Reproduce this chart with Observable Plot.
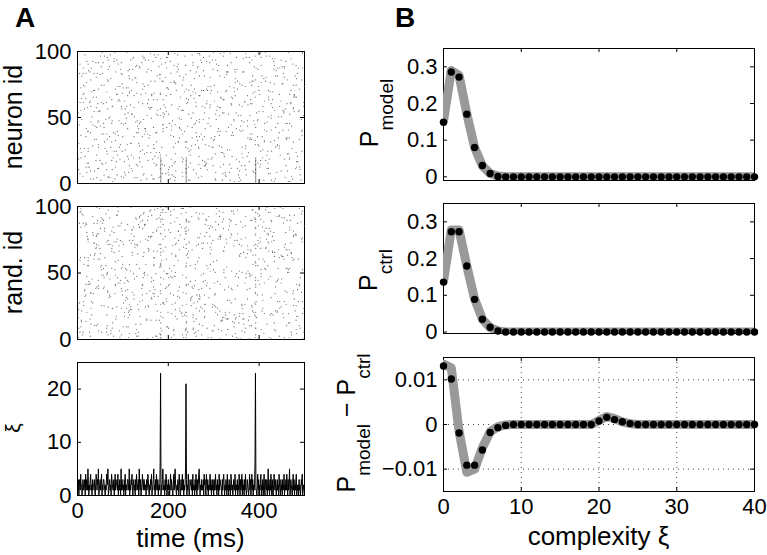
<!DOCTYPE html>
<html><head><meta charset="utf-8">
<script src="https://cdn.jsdelivr.net/npm/d3@7"></script>
<script src="https://cdn.jsdelivr.net/npm/@observablehq/plot@0.6"></script>
<style>
html,body{margin:0;padding:0;background:#fff;}
#fig{position:relative;width:767px;height:555px;overflow:hidden;background:#fff;}
#fig svg{position:absolute;max-width:none;}
</style></head><body><div id="fig"></div>
<script>
// ---------------- Panel A data ----------------
// number of background spikes per 1-ms bin (t = 0..499), 50 bins per row
const xiRows = [
  "21302314220132123041321520213412031223102431325012",
  "31240213321021432501231204321130241223140213205132",
  "12031402213321502132410231203142213052130124213312",
  "20312431021324012351203142130221630213521203143021",
  "31202413210241352102132042103124130212513021420132",
  "21304122031420312452021312130423104213021241302132",
  "03124120312041322103134202132041203120431201321402",
  "21302142031240312031420132102413024130212631102413",
  "02134021302410321302512031420310242131023120421031",
  "20312402131420312501321024130213402120312013240121"
];
// neuron ids (0-99) of the background spikes (read column by column)
const spikeIdRows = [
  "47 83 12 65 29 91 04 58 36 72 18 95 41 07 63 26 88 53 10 77 34 69 02 45 81 16 59 93 23 70 38 06 84 51 14 67 99 31 42 75 09 56 87 20 62 33 97 48 11 79",
  "25 61 90 03 54 37 86 19 73 44 08 66 28 94 57 15 82 39 71 05 49 96 21 68 35 13 80 52 27 89 64 01 46 76 32 98 17 60 85 40 22 74 55 92 30 67 43 09 78 14",
  "53 87 26 70 11 45 93 38 62 04 81 57 19 95 34 68 23 50 06 76 42 89 15 61 97 29 73 48 02 84 36 59 13 91 65 24 77 40 08 55 99 31 71 17 86 46 63 20 94 52",
  "10 74 39 83 27 60 05 92 47 16 69 35 88 22 56 03 79 44 12 98 58 31 85 07 66 41 18 90 53 25 72 09 61 37 96 14 80 49 28 75 01 57 33 87 21 64 43 99 06 82",
  "30 68 15 54 91 42 77 24 63 08 86 50 19 73 36 97 11 59 45 02 81 27 66 38 93 14 70 55 23 89 47 04 62 34 78 17 96 51 29 83 40 65 12 88 57 21 75 09 44 99",
  "18 56 85 33 71 06 49 94 27 62 13 80 45 37 98 20 67 52 03 76 41 89 25 58 11 92 34 69 07 84 48 16 73 60 29 95 39 02 87 54 22 66 10 79 43 31 90 64 15 57",
  "83 26 61 09 47 74 35 99 18 52 68 04 87 41 23 77 56 13 92 30 65 08 49 84 37 71 19 58 96 42 01 75 28 63 10 89 46 24 81 53 34 67 06 94 38 72 15 59 21 86",
  "44 97 12 70 55 31 88 03 62 25 79 46 16 93 57 38 05 80 67 22 48 11 74 35 91 60 27 85 14 52 69 40 98 33 07 76 21 63 45 87 18 54 02 71 36 95 29 66 09 78",
  "61 20 84 43 17 96 50 32 73 06 59 88 24 41 77 13 68 91 36 04 55 82 28 47 70 15 93 39 63 08 86 51 26 74 42 99 11 57 34 80 19 65 48 03 92 31 76 23 58 85",
  "07 73 38 91 54 26 65 12 86 45 30 79 02 68 49 95 21 57 83 16 40 71 34 98 05 62 27 89 53 14 76 43 10 60 87 35 24 94 50 18 67 81 39 08 72 46 29 97 56 13",
  "90 35 62 17 82 48 04 71 29 56 93 14 67 39 85 23 51 07 76 44 19 64 97 32 58 10 86 41 22 73 66 02 95 37 53 81 15 69 26 88 45 11 78 30 61 99 34 05 83 50",
  "26 64 09 80 43 15 97 37 58 72 21 89 46 03 66 31 94 54 18 75 08 60 42 87 33 70 13 51 99 25 84 39 06 77 47 19 65 92 28 56 01 74 36 85 12 49 68 23 91 40",
  "55 12 78 33 96 61 27 84 05 49 70 38 91 23 57 14 82 66 40 09 74 31 53 88 17 45 99 28 63 02 79 47 20 93 35 58 11 86 67 04 52 89 24 41 76 15 97 30 62 37",
  "19 83 46 65 02 37 79 24 91 58 11 68 35 84 06 52 27 95 43 70 16 61 89 04 48 73 32 57 20 98 41 13 66 81 29 54 07 75 38 92 60 23 87 49 14 71 03 56 34 80",
  "72 41 03 57 88 24 63 16 45 99 30 76 12 51 67 38 90 21 59 84 05 43 69 27 95 18 62 36 80 11 53 74 47 09 86 25 70 32 58 13 94 65 40 06 77 22 48 83 17 61",
  "36 92 58 21 74 10 45 67 83 29 52 04 96 37 18 63 77 42 06 88 55 26 91 14 70 49 33 81 08 60 95 22 43 68 15 79 50 01 87 34 61 12 98 46 25 73 57 19 84 39",
  "64 08 87 42 15 69 31 93 56 20 78 47 25 60 03 81 44 72 13 97 37 52 10 66 85 28 74 39 06 91 18 58 34 77 48 02 63 89 21 45 70 16 99 32 54 07 83 27 68 11",
  "23 76 50 04 61 95 17 39 82 66 09 43 71 28 92 55 14 87 47 31 78 02 64 20 53 96 35 12 69 44 86 27 59 08 73 40 18 94 62 33 05 79 51 25 88 42 67 14 97 30",
  "48 15 69 83 37 22 58 06 75 41 94 13 60 86 29 51 07 72 35 90 18 63 44 26 81 57 03 98 39 65 11 84 23 47 70 32 96 55 09 78 43 20 61 89 16 53 36 74 02 87",
  "81 57 28 46 99 33 10 67 24 85 52 38 06 74 63 19 41 95 27 56 80 12 71 48 35 91 22 65 05 59 77 40 16 88 54 31 69 03 93 45 26 83 58 11 72 37 64 97 20 49",
  "05 39 92 60 14 78 47 21 68 53 86 30 75 17 42 97 63 08 89 31 55 24 79 46 13 68 02 57 84 36 71 19 95 44 28 62 07 81 50 34 90 16 73 25 59 43 87 10 66 38",
  "67 24 44 11 83 56 01 90 35 72 19 61 48 93 26 04 77 52 15 86 39 70 29 98 57 43 08 64 82 20 51 94 33 69 12 45 76 27 88 60 03 54 36 91 22 79 47 13 65 31"
];
// synchronous events (ms) and the neurons taking part
const syncTimes = [183, 239, 392];
const syncNeurons = [0,1,2,3,4,5,6,7,8,9,10,11,12,13,14,15,16,17,18,19];
// random relabelling of neuron ids used for the "rand. id" raster
const randPermutation = [
  57,12,88,34,71,3,46,95,20,63, 8,79,41,26,90,55,17,68,1,84,
  37,99,50,14,73,29,61,6,92,44, 22,81,58,10,67,33,96,48,2,75,
  19,86,39,64,27,53,11,70,94,31, 45,0,82,16,60,98,36,77,23,51,
  89,5,42,66,13,78,30,93,56,18, 72,40,9,85,25,62,47,97,35,4,
  69,21,54,87,15,43,74,28,91,7, 59,38,80,24,65,49,83,32,76,52
];
const timeTicks = [0, 200, 400];
const neuronTicks = [0, 50, 100];
const xiTicks = [0, 10, 20];

// ---------------- Panel B data ----------------
const complexity = [0,1,2,3,4,5,6,7,8,9,10,11,12,13,14,15,16,17,18,19,20,21,22,23,24,25,26,27,28,29,30,31,32,33,34,35,36,37,38,39,40];
const pModel = [0.149,0.286,0.272,0.171,0.080,0.031,0.009,0.001,0,0,0,0,0,0,0,0,0,0,0,0,0,0,0,0,0,0,0,0,0,0,0,0,0,0,0,0,0,0,0,0,0];
const pModelTheory = [0.152,0.290,0.277,0.172,0.080,0.030,0.009,0.002,0,0,0,0,0,0,0,0,0,0,0,0,0,0,0,0,0,0,0,0,0,0,0,0,0,0,0,0,0,0,0,0,0];
const pCtrl = [0.136,0.273,0.273,0.180,0.089,0.035,0.013,0.003,0,0,0,0,0,0,0,0,0,0,0,0,0,0,0,0,0,0,0,0,0,0,0,0,0,0,0,0,0,0,0,0,0];
const pCtrlTheory = [0.138,0.278,0.278,0.180,0.090,0.035,0.012,0.003,0,0,0,0,0,0,0,0,0,0,0,0,0,0,0,0,0,0,0,0,0,0,0,0,0,0,0,0,0,0,0,0,0];
const pDiff = [0.0131,0.0102,-0.0019,-0.0091,-0.0091,-0.0057,-0.0018,-0.0007,-0.0002,0,0,0,0,0,0,0,0,0,0,0,0.0008,0.0016,0.0011,0.0006,0.0002,0,0,0,0,0,0,0,0,0,0,0,0,0,0,0,0];
const pDiffTheory = [0.0135,0.0127,-0.0015,-0.0107,-0.0100,-0.0052,-0.0016,-0.0005,-0.0001,0,0,0,0,0,0,0,0,0,0,0,0.0009,0.0018,0.0013,0.0006,0.0002,0,0,0,0,0,0,0,0,0,0,0,0,0,0,0,0];
const complexityTicks = [0, 10, 20, 30, 40];
const probTicks = [0, 0.1, 0.2, 0.3];
const diffTicks = [-0.01, 0, 0.01];

// ---------------- build tables ----------------
const xiDigits = xiRows.join("");
const idRows = spikeIdRows.map(r => r.trim().split(/\s+/).map(Number));
const idList = [];
for (let c = 0; c < idRows[0].length; c++) for (const r of idRows) if (c < r.length) idList.push(r[c]);
const spikes = [];
let k = 0;
for (let t = 0; t < xiDigits.length; t++) {
  const n = +xiDigits[t];
  for (let j = 0; j < n; j++) spikes.push({t, id: idList[k++ % idList.length]});
}
for (const t of syncTimes) for (const id of syncNeurons) spikes.push({t, id});
const counts = d3.rollup(spikes, v => v.length, d => d.t);
const xiSeries = Array.from({length: xiDigits.length}, (_, t) => ({t, xi: counts.get(t) ?? 0}));
const tbl = (ys) => complexity.map((c, i) => ({c, v: ys[i]}));

const FONT = "'Liberation Sans', Arial, Helvetica, sans-serif";
const fig = document.getElementById("fig");
const ML = 80, MR = 14, MT = 12, MB = 46, TICK = 4;
const numFmt = d => d < 0 ? "\u2212" + Math.abs(d) : String(d);

function panel(p) {
  const {left, top, w, h} = p;
  const svg = Plot.plot({
    width: w + ML + MR, height: h + MT + MB,
    marginLeft: ML, marginRight: MR, marginTop: MT, marginBottom: MB,
    style: {background: "transparent", fontFamily: FONT, fontSize: "22px", color: "black", overflow: "visible"},
    x: {domain: p.xDomain, axis: null},
    y: {domain: p.yDomain, axis: null},
    marks: [
      ...(p.under || []),
      Plot.frame({stroke: "black"}),
      Plot.ruleY(p.yTicks, {insetRight: w - TICK, stroke: "black"}),
      Plot.ruleY(p.yTicks, {insetLeft: w - TICK, stroke: "black"}),
      Plot.ruleX(p.xTicks, {insetBottom: h - TICK, stroke: "black"}),
      Plot.ruleX(p.xTicks, {insetTop: h - TICK, stroke: "black"}),
      Plot.axisY(p.yTicks, {tickSize: 0, tickPadding: 6, label: null, tickFormat: numFmt}),
      p.xLabels ? Plot.axisX(p.xTicks, {tickSize: 0, tickPadding: 7, label: null, tickFormat: numFmt}) : null,
      ...p.marks
    ]
  });
  svg.style.left = (left - ML) + "px";
  svg.style.top = (top - MT) + "px";
  fig.appendChild(svg);
}

const rasterDot = (yf) => Plot.dot(spikes, {x: d => d.t + 0.5, y: yf, r: 0.6, fill: "#666"});

panel({left: 77, top: 51, w: 227, h: 132, xDomain: [0, 500], yDomain: [0, 100],
  xTicks: timeTicks, yTicks: neuronTicks,
  marks: [rasterDot(d => d.id + 0.5)]});
panel({left: 77, top: 206, w: 227, h: 133, xDomain: [0, 500], yDomain: [0, 100],
  xTicks: timeTicks, yTicks: neuronTicks,
  marks: [rasterDot(d => randPermutation[d.id] + 0.5)]});
panel({left: 77, top: 362, w: 227, h: 133, xDomain: [0, 500], yDomain: [0, 25],
  xTicks: timeTicks, yTicks: xiTicks, xLabels: true,
  marks: [Plot.line(xiSeries, {x: "t", y: "xi", stroke: "black", strokeWidth: 1})]});

const probMarks = (obs, theo) => [
  Plot.line(tbl(theo), {x: "c", y: "v", stroke: "#999", strokeWidth: 9, strokeLinejoin: "round", strokeLinecap: "round", clip: true}),
  Plot.dot(tbl(obs), {x: "c", y: "v", r: 3.7, fill: "black"})
];
panel({left: 443, top: 48, w: 311, h: 132, xDomain: [0, 40], yDomain: [-0.01, 0.35],
  xTicks: complexityTicks, yTicks: probTicks, marks: probMarks(pModel, pModelTheory)});
panel({left: 443, top: 203, w: 311, h: 130, xDomain: [0, 40], yDomain: [-0.004, 0.35],
  xTicks: complexityTicks, yTicks: probTicks, marks: probMarks(pCtrl, pCtrlTheory)});
panel({left: 443, top: 357, w: 311, h: 134, xDomain: [0, 40], yDomain: [-0.015, 0.015],
  xTicks: complexityTicks, yTicks: diffTicks, xLabels: true,
  under: [
    Plot.ruleX(complexityTicks.slice(1, -1), {stroke: "#444", strokeDasharray: "1,4"}),
    Plot.ruleY(diffTicks, {stroke: "#444", strokeDasharray: "1,4"})
  ],
  marks: probMarks(pDiff, pDiffTheory)});

// ---------------- text labels ----------------
const ov = d3.create("svg").attr("width", 767).attr("height", 555)
  .attr("font-family", FONT).style("left", "0px").style("top", "0px").style("pointer-events", "none");
ov.append("text").attr("x", 15).attr("y", 27).attr("font-size", 28).attr("font-weight", "bold").text("A");
ov.append("text").attr("x", 395).attr("y", 27).attr("font-size", 28).attr("font-weight", "bold").text("B");
ov.append("text").attr("x", 190.5).attr("y", 547).attr("font-size", 26).attr("text-anchor", "middle").text("time (ms)");
ov.append("text").attr("x", 598.5).attr("y", 545).attr("font-size", 26).attr("text-anchor", "middle").text("complexity \u03be");
const rot = (x, y, fs) => ov.append("text").attr("transform", `translate(${x},${y}) rotate(-90)`).attr("text-anchor", "middle").attr("font-size", fs);
rot(22, 117, 25).text("neuron id");
rot(22, 272.5, 25).text("rand. id");
rot(20, 428, 21).text("\u03be");
const pm = rot(378, 113, 25);
pm.append("tspan").text("P");
pm.append("tspan").attr("font-size", 19).attr("dy", 15).text("model");
const pc = rot(377, 270, 25);
pc.append("tspan").text("P");
pc.append("tspan").attr("font-size", 19).attr("dy", 15).text("ctrl");
const pd = rot(355, 423, 25);
pd.append("tspan").text("P");
pd.append("tspan").attr("font-size", 19).attr("dy", 15).text("model");
pd.append("tspan").attr("dy", -15).text(" \u2212 P");
pd.append("tspan").attr("font-size", 19).attr("dy", 15).text("ctrl");
fig.appendChild(ov.node());
</script></body></html>
